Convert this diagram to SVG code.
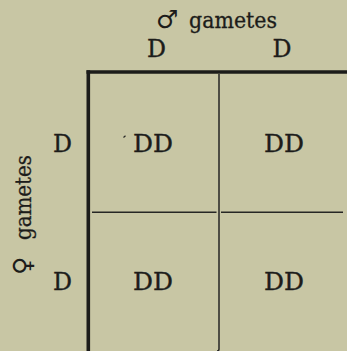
<svg xmlns="http://www.w3.org/2000/svg" width="347" height="351" viewBox="0 0 347 351">
  <style>
    .lbl { font-family: "DejaVu Serif", "Liberation Serif", serif; font-size: 24px; fill: #1c1c1a; stroke: #1c1c1a; stroke-width: 0.35; }
    .word { font-size: 21.5px; stroke-width: 0.3; }
    .sym { font-family: "DejaVu Sans", "Noto Sans", sans-serif; font-size: 25px; stroke-width: 0; }
    .thick { stroke: #1c1c1a; stroke-width: 3.6; fill: none; }
    .thin { stroke: #262624; stroke-width: 1.5; fill: none; }
  </style>
  <rect x="0" y="0" width="347" height="351" fill="#c8c6a4"/>

  <g id="connectors">
    <path class="thick" d="M86.5 72 H347"/>
    <path class="thick" d="M88.3 70.2 V351"/>
    <path class="thin" d="M219 74 V349 Q219 351 217 351"/>
    <path class="thin" d="M92 212.3 H216.5 M221 212.3 H343"/>
  </g>

  <g id="male-label">
    <text class="lbl word" x="156" y="28"><tspan class="sym">♂</tspan> <tspan x="189" textLength="88" lengthAdjust="spacingAndGlyphs">gametes</tspan></text>
  </g>
  <g id="female-label">
    <text class="lbl word" transform="translate(31,214) rotate(-90)" x="-61" y="0"><tspan class="sym">♀</tspan> <tspan x="-26" textLength="85" lengthAdjust="spacingAndGlyphs">gametes</tspan></text>
  </g>

  <g id="col1"><text class="lbl" x="156.5" y="57" text-anchor="middle" textLength="19" lengthAdjust="spacingAndGlyphs">D</text></g>
  <g id="col2"><text class="lbl" x="282" y="57" text-anchor="middle" textLength="19" lengthAdjust="spacingAndGlyphs">D</text></g>
  <g id="row1"><text class="lbl" x="62.5" y="152" text-anchor="middle" textLength="19" lengthAdjust="spacingAndGlyphs">D</text></g>
  <g id="row2"><text class="lbl" x="62.5" y="290" text-anchor="middle" textLength="19" lengthAdjust="spacingAndGlyphs">D</text></g>

  <g id="cell11">
    <path d="M123.5 137.5 L125.5 135.8" stroke="#262624" stroke-width="1.2"/>
    <text class="lbl" x="153" y="152" text-anchor="middle" textLength="40" lengthAdjust="spacingAndGlyphs">DD</text>
  </g>
  <g id="cell12"><text class="lbl" x="284" y="152" text-anchor="middle" textLength="40" lengthAdjust="spacingAndGlyphs">DD</text></g>
  <g id="cell21"><text class="lbl" x="153" y="290" text-anchor="middle" textLength="40" lengthAdjust="spacingAndGlyphs">DD</text></g>
  <g id="cell22"><text class="lbl" x="284" y="290" text-anchor="middle" textLength="40" lengthAdjust="spacingAndGlyphs">DD</text></g>
</svg>
